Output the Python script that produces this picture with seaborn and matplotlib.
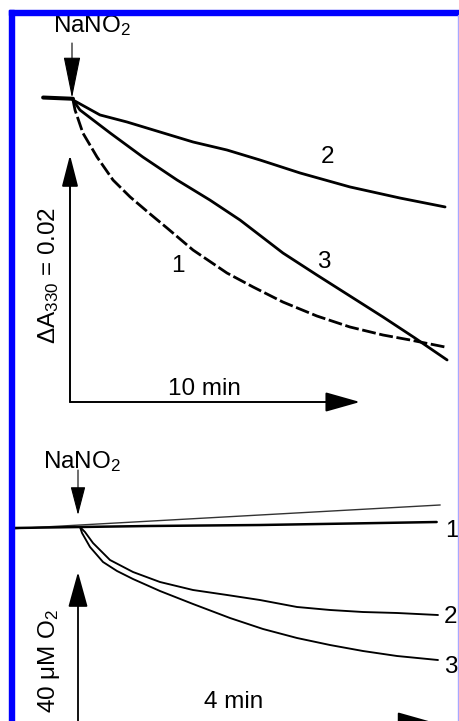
import numpy as np
import pandas as pd
import seaborn as sns
import matplotlib.pyplot as plt
from matplotlib.patches import Rectangle

# ---- data ----
# top panel: change in A330 (units of 1e-3) vs time after NaNO2 (min)
top_base_t = [-1.03, 0.0]
top_base_a = [0.2, 0.1]
top_t1 = [0, 0.07, 0.34, 0.83, 1.38, 1.97, 2.66, 3.24, 4.14, 5.31, 6.21, 7.24, 8.41, 9.55, 10.69, 11.62, 12.83]
top_a1 = [0, -0.81, -2.67, -4.62, -6.48, -7.85, -9.23, -10.36, -12.15, -14.01, -15.14, -16.36, -17.49, -18.38, -19.03, -19.43, -20.00]
top_t2 = [0, 0.93, 1.86, 3.0, 4.14, 5.31, 6.45, 7.83, 9.55, 11.28, 12.83]
top_a2 = [0, -1.21, -1.78, -2.59, -3.40, -4.05, -4.86, -5.91, -7.04, -7.94, -8.66]
top_t3 = [0, 0.24, 1.28, 2.41, 3.59, 4.72, 5.76, 7.24, 8.41, 9.55, 10.69, 11.79, 12.90]
top_a3 = [0, -0.81, -2.67, -4.62, -6.48, -8.10, -9.72, -12.39, -14.17, -15.87, -17.57, -19.27, -21.05]

# bottom panel: change in O2 (uM) vs time after NaNO2 (min)
bot_t0 = [-0.75, 4.07]          # thin reference trace
bot_o0 = [-0.45, 5.87]
bot_t1 = [-0.75, 0, 0.79, 2.03, 3.05, 4.03]
bot_o1 = [-0.27, 0, 0.27, 0.53, 0.93, 1.33]
bot_t2 = [0, 0.056, 0.147, 0.339, 0.599, 0.904, 1.277, 1.661, 2.034, 2.452, 2.825, 3.198, 3.582, 4.045]
bot_o2 = [0, -1.33, -4.27, -8.8, -12.0, -14.67, -16.8, -18.13, -19.47, -21.33, -22.13, -22.67, -22.93, -23.47]
bot_t3 = [0, 0.023, 0.113, 0.260, 0.418, 0.599, 0.904, 1.277, 1.695, 2.068, 2.452, 2.825, 3.198, 3.582, 4.045]
bot_o3 = [0, -1.6, -5.33, -9.33, -11.73, -13.87, -17.07, -20.53, -24.27, -27.2, -29.6, -31.47, -33.07, -34.4, -35.47]

bar_top_t, bar_top_a = 10, 0.02    # scale bars
bar_bot_t, bar_bot_o = 4, 40

# ---- layout ----
W, H = 460, 721
sns.set_theme(style="white")
plt.rcParams['font.family'] = ['Liberation Sans', 'DejaVu Sans']
plt.rcParams['mathtext.fontset'] = 'custom'
plt.rcParams['mathtext.rm'] = 'Liberation Sans'
plt.rcParams['mathtext.default'] = 'regular'
FS = 17.5

fig = plt.figure(figsize=(W / 100, H / 100), dpi=100)
fig.patch.set_facecolor('white')

# pixel -> data mapping for each panel
top_px0, top_pxmin = 73, 29.0
top_py0, top_pyunit = 100, 247 / 0.02
bot_px0, bot_pxmin = 80, 88.5
bot_py0, bot_pyunit = 527, 3.75

ax1 = fig.add_axes([0, 1 - 420 / H, 1, 420 / H])
ax1.set_xlim((0 - top_px0) / top_pxmin, (W - top_px0) / top_pxmin)
ax1.set_ylim(-(420 - top_py0) / top_pyunit, top_py0 / top_pyunit)
ax2 = fig.add_axes([0, 0, 1, (H - 420) / H])
ax2.set_xlim((0 - bot_px0) / bot_pxmin, (W - bot_px0) / bot_pxmin)
ax2.set_ylim(-(H - bot_py0) / bot_pyunit, (bot_py0 - 420) / bot_pyunit)
for ax in (ax1, ax2):
    ax.set_axis_off()

kw = dict(estimator=None, sort=False, color='black')
sns.lineplot(x=top_base_t, y=np.array(top_base_a) / 1000, ax=ax1, lw=2.9, **kw)
sns.lineplot(x=top_t2, y=np.array(top_a2) / 1000, ax=ax1, lw=2.0, **kw)
sns.lineplot(x=top_t3, y=np.array(top_a3) / 1000, ax=ax1, lw=2.0, **kw)
sns.lineplot(x=top_t1, y=np.array(top_a1) / 1000, ax=ax1, lw=2.0,
             linestyle=(0, (5, 1.3)), **kw)

sns.lineplot(x=bot_t0, y=bot_o0, ax=ax2, lw=1.0, estimator=None, sort=False, color='#333333')
sns.lineplot(x=bot_t1, y=bot_o1, ax=ax2, lw=1.8, **kw)
sns.lineplot(x=bot_t2, y=bot_o2, ax=ax2, lw=1.35, **kw)
sns.lineplot(x=bot_t3, y=bot_o3, ax=ax2, lw=1.35, **kw)


def arrow(ax, tail, tip, lw, hl, hw, coords='data'):
    ax.annotate('', xy=tip, xytext=tail, xycoords=coords, textcoords=coords,
                annotation_clip=False,
                arrowprops=dict(arrowstyle=f'-|>,head_length={hl},head_width={hw}',
                                mutation_scale=1, lw=lw, color='black',
                                shrinkA=0, shrinkB=0))


def fp(x, y):
    return (x, H - y)


# scale bars
o1 = ((70 - top_px0) / top_pxmin, -(402 - top_py0) / top_pyunit)
arrow(ax1, o1, (o1[0], o1[1] + bar_top_a), 1.4, 19.4, 5.0)
arrow(ax1, o1, (o1[0] + bar_top_t, o1[1]), 1.4, 21.6, 6.1)
o2 = ((78 - bot_px0) / bot_pxmin, -(722 - bot_py0) / bot_pyunit)
arrow(ax2, o2, (o2[0], o2[1] + bar_bot_o), 1.3, 22, 6.1)
arrow(ax2, o2, (o2[0] + bar_bot_t, o2[1]), 1.3, 21.6, 6.1)

# NaNO2 addition arrows
arrow(ax1, fp(72, 43), fp(72, 98), 0.8, 26.6, 5.4, coords='figure pixels')
arrow(ax2, fp(78, 470), fp(78, 515), 0.8, 18, 4.7, coords='figure pixels')


def label(s, x, y, ha='center', rot=0):
    fig.text(x / W, 1 - y / H, s, ha=ha, va='baseline', fontsize=FS,
             rotation=rot, rotation_mode='anchor', color='black')


label('NaNO$_2$', 92, 32)
label('2', 328, 163)
label('3', 324, 268)
label('1', 178, 272)
label('10 min', 204, 395)
label('ΔA$_{330}$ = 0.02', 55, 275, rot=90)

label('NaNO$_2$', 82, 468)
label('1', 445, 537, ha='left')
label('2', 444, 623, ha='left')
label('3', 444, 673, ha='left')
label('4 min', 234, 708)
label('40 μM O$_2$', 55, 661, rot=90)

# blue frame of the scanned figure
fig.patches.append(Rectangle((9 / W, 1 - 15 / H), 1, 5 / H, transform=fig.transFigure,
                             color='#0000ff', zorder=5))
fig.patches.append(Rectangle((9 / W, 0), 5 / W, 1 - 10 / H, transform=fig.transFigure,
                             color='#0000ff', zorder=5))
fig.patches.append(Rectangle((458.5 / W, 0), 1 / W, 1 - 15 / H, transform=fig.transFigure,
                             color='#a8a8ff', zorder=5))

fig.savefig('out.png', dpi=100)
